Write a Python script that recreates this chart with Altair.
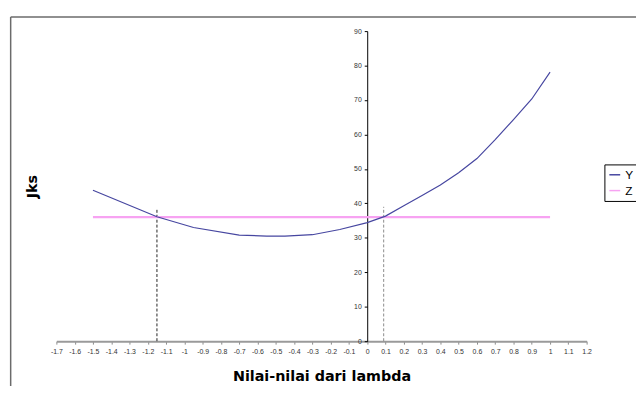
import altair as alt
import pandas as pd

# ---- data ----
lam_y = [-1.5, -1.15, -0.95, -0.7, -0.55, -0.45, -0.3, -0.15, 0.0, 0.1,
         0.2, 0.3, 0.4, 0.5, 0.6, 0.7, 0.8, 0.9, 1.0]
jks_y = [43.8, 36.1, 33.0, 30.8, 30.5, 30.5, 30.9, 32.4, 34.4, 36.3,
         39.3, 42.3, 45.3, 48.9, 53.0, 58.5, 64.3, 70.3, 78.1]
lam_z = [-1.5, 1.0]
jks_z = [36.0, 36.0]
cross_lam = [-1.15, 0.09]
cross_top = [38.4, 39.0]
cross_col = ["#222222", "#8a8a8a"]
series_names = ["Y", "Z"]
series_colors = ["#4646A0", "#F7A3F2"]
x_ticks = [round(-1.7 + 0.1 * i, 1) for i in range(30)]
y_ticks = [0, 10, 20, 30, 40, 50, 60, 70, 80, 90]

W, H = 537, 314

df_y = pd.DataFrame({"lam": lam_y, "jks": jks_y, "series": "Y", "o": range(len(lam_y))})
df_z = pd.DataFrame({"lam": lam_z, "jks": jks_z, "series": "Z", "o": range(len(lam_z))})
cross = pd.DataFrame({"lam": cross_lam, "top": cross_top, "col": cross_col, "base": [0, 0]})

xscale = alt.Scale(domain=[-1.7, 1.2], nice=False, zero=False)
yscale = alt.Scale(domain=[0, 90], nice=False)

xaxis = alt.Axis(
    values=x_ticks, labelExpr="'' + datum.value", grid=False,
    domainColor="#9a9a9a", domainWidth=2, tickColor="#8a8a8a", tickSize=3,
    labelFontSize=7, labelColor="#333333", labelFont="Liberation Sans",
    labelPadding=4, labelFlush=False, labelOverlap=False,
    title="Nilai-nilai dari lambda", titleFont="DejaVu Sans", titleFontSize=14.5,
    titleFontWeight="bold", titleColor="#000000", titlePadding=15,
)
yaxis = alt.Axis(
    values=y_ticks, grid=False, offset=-W * 1.7 / 2.9,
    domainColor="#000000", domainWidth=1, tickColor="#000000", tickSize=3,
    labelFontSize=7, labelColor="#333333", labelFont="Liberation Sans",
    labelPadding=3, labelFlush=False, labelOverlap=False,
    title="Jks", titleFont="DejaVu Sans", titleFontSize=14.5, titleFontWeight="bold",
    titleColor="#000000", titleX=33 - 57 - W * 1.7 / 2.9, titleY=H / 2,
    titleBaseline="middle", titleAlign="center", titleAngle=270,
)

color_enc = alt.Color(
    "series:N",
    scale=alt.Scale(domain=series_names, range=series_colors),
    legend=alt.Legend(
        title=None, orient="none", legendX=555, legendY=135,
        strokeColor="#000000", fillColor="#ffffff", padding=4,
        symbolType="stroke", symbolSize=121, symbolStrokeWidth=1.5,
        labelFont="Liberation Sans", labelFontSize=12, labelColor="#000000",
        labelOffset=4, rowPadding=3,
    ),
)

rules = alt.Chart(cross).mark_rule(strokeDash=[3, 2], strokeWidth=1).encode(
    x=alt.X("lam:Q", scale=xscale, axis=xaxis),
    y=alt.Y("base:Q", scale=yscale, axis=yaxis),
    y2="top:Q",
    stroke=alt.Stroke("col:N", scale=None, legend=None),
)

curve_z = alt.Chart(df_z).mark_line(strokeWidth=2.2).encode(
    x=alt.X("lam:Q", scale=xscale, axis=xaxis),
    y=alt.Y("jks:Q", scale=yscale, axis=yaxis),
    order="o:Q",
    color=color_enc,
)
curve_y = alt.Chart(df_y).mark_line(strokeWidth=1.2).encode(
    x=alt.X("lam:Q", scale=xscale, axis=xaxis),
    y=alt.Y("jks:Q", scale=yscale, axis=yaxis),
    order="o:Q",
    color=color_enc,
)

frame_top = alt.Chart(pd.DataFrame({"a": [0]})).mark_rule(
    color="#6b6b6b", strokeWidth=1.5
).encode(x=alt.value(-46.3), x2=alt.value(700), y=alt.value(-14.3))
frame_left = alt.Chart(pd.DataFrame({"a": [0]})).mark_rule(
    color="#6b6b6b", strokeWidth=1.5
).encode(x=alt.value(-46.3), y=alt.value(-14.3), y2=alt.value(500))

chart = alt.layer(frame_top, frame_left, rules, curve_z, curve_y).properties(
    width=W, height=H,
    background="#ffffff",
    autosize=alt.AutoSizeParams(type="none"),
    padding={"left": 49, "top": 21, "right": 50, "bottom": 43},
).configure_view(stroke=None)

chart.save("out.html", embed_options={"renderer": "svg", "actions": False})
